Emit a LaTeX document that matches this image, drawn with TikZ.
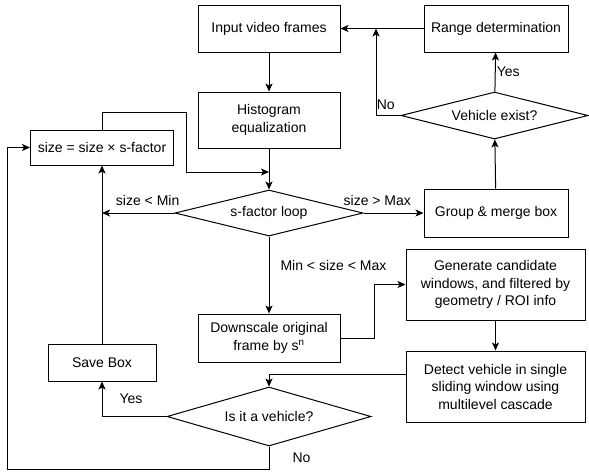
\documentclass[tikz,border=0pt]{standalone}
\usepackage{fontspec}
\setmainfont{Liberation Sans}
\usetikzlibrary{arrows.meta,shapes.geometric}

\begin{document}
\begin{tikzpicture}[
  x=1pt, y=-1pt,
  font=\fontsize{14}{17.5}\selectfont,
  line width=1pt,
  b/.style={draw, align=center, inner sep=2pt},
  dec/.style={draw, diamond, shape aspect=4, align=center, inner sep=0pt},
  a/.style={-{Stealth[length=8pt,width=7pt,inset=2pt]}},
  lbl/.style={inner sep=1pt}]

\useasboundingbox (0,0) rectangle (589,475);

% main column
\node[b, minimum width=142, minimum height=47] (inp) at (269,28.5) {Input video frames};
\node[b, minimum width=142, minimum height=56] (hist) at (269,120) {Histogram\\equalization};
\node[dec, minimum width=188, minimum height=46] (sf) at (269,213) {s-factor loop};
\node[b, minimum width=142, minimum height=48] (ds) at (269,338) {Downscale original\\frame by s\textsuperscript{n}};
\node[dec, minimum width=204, minimum height=59] (iv) at (269,416.5) {Is it a vehicle?};

% left column
\node[b, minimum width=143, minimum height=35] (sz) at (102,147.5) {size = size × s-factor};
\node[b, minimum width=108, minimum height=37] (sb) at (102,362.5) {Save Box};

% right column
\node[b, minimum width=144, minimum height=47] (rd) at (496,28.5) {Range determination};
\node[dec, minimum width=187, minimum height=47] (ve) at (494.5,115.5) {Vehicle exist?};
\node[b, minimum width=144, minimum height=48] (gm) at (496,213) {Group \& merge box};
\node[b, minimum width=179, minimum height=71] (gc) at (495.5,284.5)
      {Generate candidate\\windows, and filtered by\\geometry / ROI info};
\node[b, minimum width=179, minimum height=71] (dv) at (495.5,386.5)
      {Detect vehicle in single\\sliding window using\\multilevel cascade};

\coordinate (j1) at (269,172);
\coordinate (j3) at (376,28.5);

\draw[a] (inp) -- (hist);
\draw[a] (hist) -- (sf);
\draw[a] (sz.north) |- (186,112) |- (j1);
\draw[a] (sf.west) -- node[lbl, above=6pt, pos=.37] {size < Min} (sf.west -| sz);
\draw[a] (sb) -- (sz);
\draw[a] (sf.east) -- node[lbl, above=6pt, pos=.23] {size > Max} (gm);
\draw[a] (gm) -- (ve);
\draw[a] (ve) -- node[lbl, right] {Yes} (rd);
\draw[a] (rd) -- (inp);
\draw[a] (ve.west) -| node[lbl, above=4pt, pos=.3] {No} (j3);
\draw[a] (sf.south) -- node[lbl, right=10pt, pos=.38] {Min < size < Max} (ds);
\draw[a] (ds.east) -- ++(34,0) |- (gc.west);
\draw[a] (gc) -- (dv);
\draw[a] ([yshift=12.5pt]dv.west) -| (iv.north);
\draw[a] (iv.west) -| node[lbl, pos=.75, right=16pt] {Yes} (sb);
\draw[a] (iv.south) |- node[lbl, pos=.25, right=22pt] {No} (7,469) |- (sz.west);
\end{tikzpicture}
\end{document}
